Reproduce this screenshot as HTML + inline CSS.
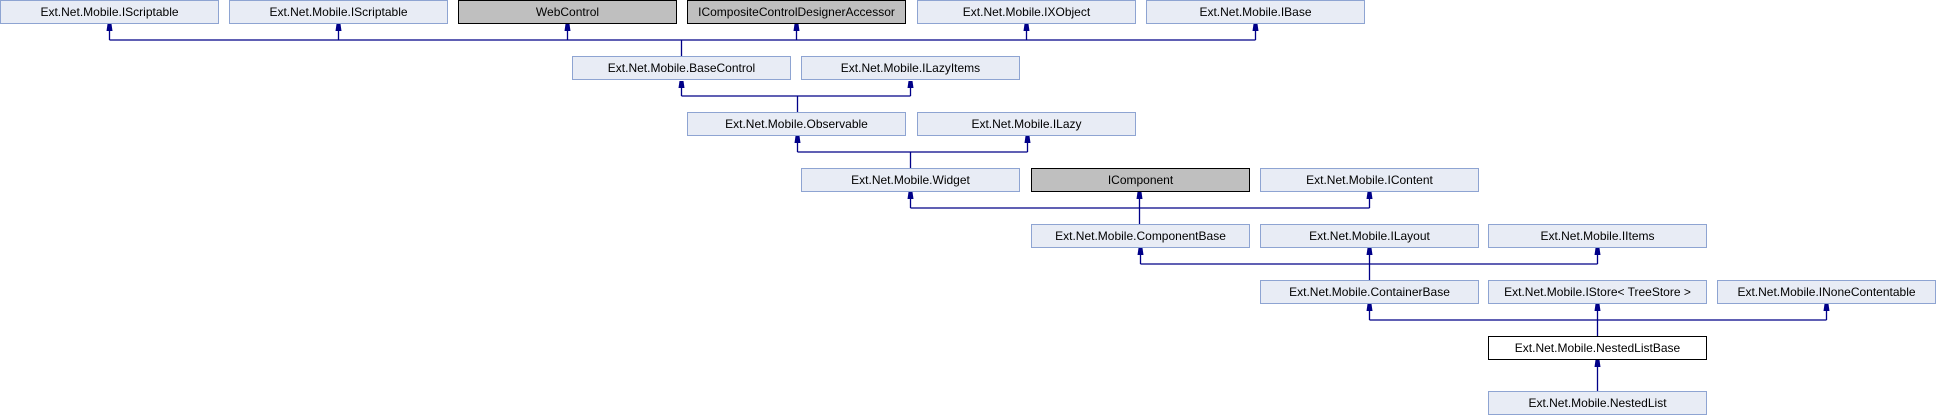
<!DOCTYPE html>
<html><head><meta charset="utf-8"><style>
html,body{margin:0;padding:0;background:#fff;}
svg{display:block;}
text{font-family:"Liberation Sans",sans-serif;font-size:12px;fill:#000;}
</style></head><body>
<svg width="1936" height="416" viewBox="0 0 1936 416" xmlns="http://www.w3.org/2000/svg">
<defs>
<marker id="a" markerWidth="8" markerHeight="8" refX="4" refY="1" orient="auto" markerUnits="userSpaceOnUse" viewBox="0 0 8 8">
</marker>
</defs>
<g stroke="#000088" stroke-width="1.3" fill="none">
<!-- row0 -> BaseControl -->
<path d="M109.5 40H1255.5M109.5 24V40M338.5 24V40M567.5 24V40M796.5 24V40M1026.5 24V40M1255.5 24V40M681.5 40V57"/>
<!-- row1 -> Observable -->
<path d="M681.5 96H910.5M681.5 81V96M910.5 81V96M797.5 96V112"/>
<!-- row2 -> Widget -->
<path d="M797.5 152H1027.5M797.5 136V152M1027.5 136V152M910.5 152V168"/>
<!-- row3 -> ComponentBase -->
<path d="M910.5 208H1369.5M910.5 192V208M1369.5 192V208M1139.5 192V224"/>
<!-- row4 -> ContainerBase -->
<path d="M1140.5 264H1597.5M1140.5 248V264M1597.5 248V264M1369.5 248V280"/>
<!-- row5 -> NestedListBase -->
<path d="M1369.5 320H1826.5M1369.5 304V320M1826.5 304V320M1597.5 304V336"/>
<!-- row6 -> NestedList -->
<path d="M1597.5 360V391"/>
</g>
<g fill="#000088">
<path d="M106.5 31h6l-1-7h-4z"/><path d="M335.5 31h6l-1-7h-4z"/><path d="M564.5 31h6l-1-7h-4z"/><path d="M793.5 31h6l-1-7h-4z"/><path d="M1023.5 31h6l-1-7h-4z"/><path d="M1252.5 31h6l-1-7h-4z"/>
<path d="M678.5 88h6l-1-7h-4z"/><path d="M907.5 88h6l-1-7h-4z"/>
<path d="M794.5 143h6l-1-7h-4z"/><path d="M1024.5 143h6l-1-7h-4z"/>
<path d="M907.5 199h6l-1-7h-4z"/><path d="M1136.5 199h6l-1-7h-4z"/><path d="M1366.5 199h6l-1-7h-4z"/>
<path d="M1137.5 255h6l-1-7h-4z"/><path d="M1366.5 255h6l-1-7h-4z"/><path d="M1594.5 255h6l-1-7h-4z"/>
<path d="M1366.5 311h6l-1-7h-4z"/><path d="M1594.5 311h6l-1-7h-4z"/><path d="M1823.5 311h6l-1-7h-4z"/>
<path d="M1594.5 367h6l-1-7h-4z"/>
</g>
<g stroke-width="1">
<g fill="#e8ecf5" stroke="#8ea4d2">
<rect x="0.5" y="0.5" width="218" height="23"/>
<rect x="229.5" y="0.5" width="218" height="23"/>
<rect x="917.5" y="0.5" width="218" height="23"/>
<rect x="1146.5" y="0.5" width="218" height="23"/>
<rect x="572.5" y="56.5" width="218" height="23"/>
<rect x="801.5" y="56.5" width="218" height="23"/>
<rect x="687.5" y="112.5" width="218" height="23"/>
<rect x="917.5" y="112.5" width="218" height="23"/>
<rect x="801.5" y="168.5" width="218" height="23"/>
<rect x="1260.5" y="168.5" width="218" height="23"/>
<rect x="1031.5" y="224.5" width="218" height="23"/>
<rect x="1260.5" y="224.5" width="218" height="23"/>
<rect x="1488.5" y="224.5" width="218" height="23"/>
<rect x="1260.5" y="280.5" width="218" height="23"/>
<rect x="1488.5" y="280.5" width="218" height="23"/>
<rect x="1717.5" y="280.5" width="218" height="23"/>
<rect x="1488.5" y="391.5" width="218" height="23"/>
</g>
<g fill="#bfbfbf" stroke="#000">
<rect x="458.5" y="0.5" width="218" height="23"/>
<rect x="687.5" y="0.5" width="218" height="23"/>
<rect x="1031.5" y="168.5" width="218" height="23"/>
</g>
<rect x="1488.5" y="336.5" width="218" height="23" fill="#fff" stroke="#000"/>
</g>
<g text-anchor="middle">
<text x="109.5" y="16">Ext.Net.Mobile.IScriptable</text>
<text x="338.5" y="16">Ext.Net.Mobile.IScriptable</text>
<text x="567.5" y="16">WebControl</text>
<text x="796.5" y="16">ICompositeControlDesignerAccessor</text>
<text x="1026.5" y="16">Ext.Net.Mobile.IXObject</text>
<text x="1255.5" y="16">Ext.Net.Mobile.IBase</text>
<text x="681.5" y="72">Ext.Net.Mobile.BaseControl</text>
<text x="910.5" y="72">Ext.Net.Mobile.ILazyItems</text>
<text x="796.5" y="128">Ext.Net.Mobile.Observable</text>
<text x="1026.5" y="128">Ext.Net.Mobile.ILazy</text>
<text x="910.5" y="184">Ext.Net.Mobile.Widget</text>
<text x="1140.5" y="184">IComponent</text>
<text x="1369.5" y="184">Ext.Net.Mobile.IContent</text>
<text x="1140.5" y="240">Ext.Net.Mobile.ComponentBase</text>
<text x="1369.5" y="240">Ext.Net.Mobile.ILayout</text>
<text x="1597.5" y="240">Ext.Net.Mobile.IItems</text>
<text x="1369.5" y="296">Ext.Net.Mobile.ContainerBase</text>
<text x="1597.5" y="296">Ext.Net.Mobile.IStore&lt; TreeStore &gt;</text>
<text x="1826.5" y="296">Ext.Net.Mobile.INoneContentable</text>
<text x="1597.5" y="352">Ext.Net.Mobile.NestedListBase</text>
<text x="1597.5" y="407">Ext.Net.Mobile.NestedList</text>
</g>
</svg>
</body></html>
